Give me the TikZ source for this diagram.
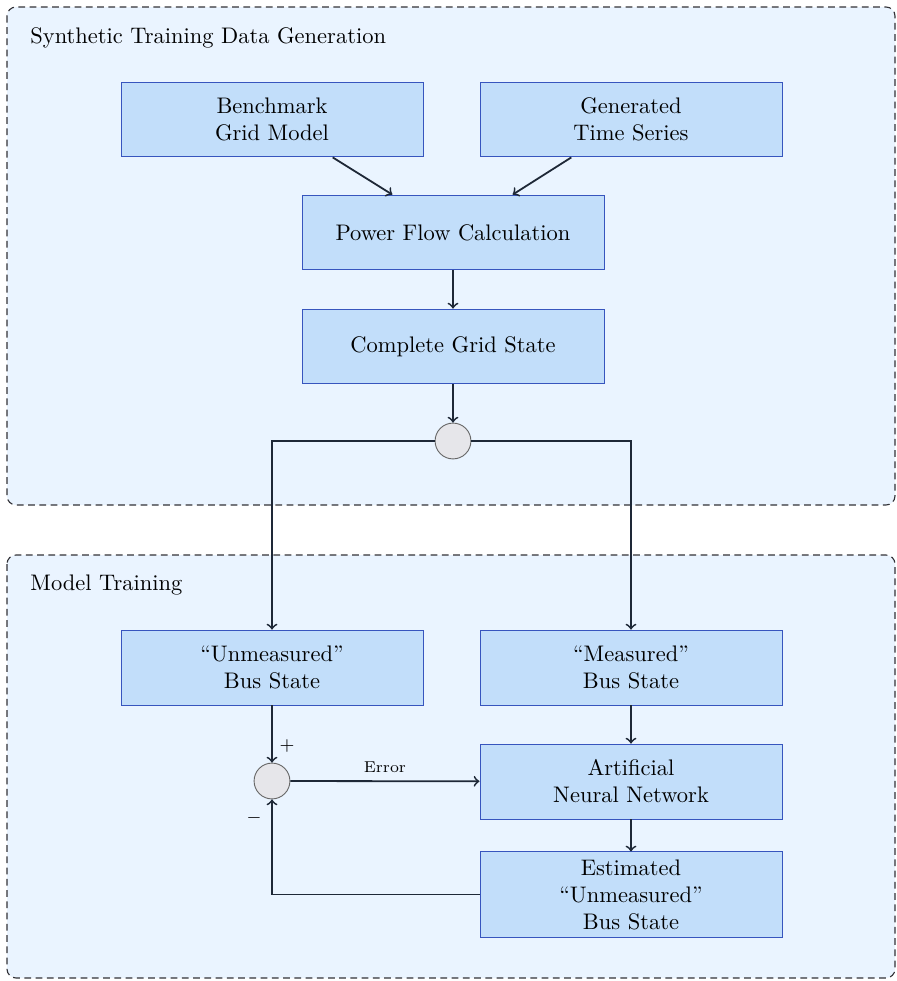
\documentclass[tikz,border=0pt]{standalone}
\usepackage{tikz}
\usetikzlibrary{arrows,positioning}

\definecolor{boxfill}{RGB}{194,222,250}
\definecolor{boxline}{RGB}{55,85,190}
\definecolor{groupfill}{RGB}{234,244,255}
\definecolor{groupline}{RGB}{50,50,55}
\definecolor{wire}{RGB}{30,40,55}
\definecolor{sumfill}{RGB}{230,230,234}

\tikzset{
  block/.style={rectangle,draw=boxline,fill=boxfill,minimum width=4.72cm,minimum height=1.17cm,align=center,inner sep=2pt},
  sumnode/.style={circle,draw=black!60,fill=sumfill,minimum size=0.56cm,inner sep=0pt},
  flow/.style={->,thick,draw=wire},
  group/.style={draw=groupline,line width=0.5pt,dash pattern=on 3pt off 2pt,rounded corners=4pt,fill=groupfill},
  grouptitle/.style={anchor=west,inner sep=0pt}
}

\begin{document}
\begin{tikzpicture}[x=0.01563cm,y=-0.01563cm]
  \useasboundingbox (0,0) rectangle (897,981);
  % groups
  \draw[group] (7,7) rectangle (895,505);
  \draw[group] (7,555) rectangle (895,978);
  \node[grouptitle] (gentitle) at (30,38) {Synthetic Training Data Generation};
  \node[grouptitle] (traintitle) at (30,585) {Model Training};

  % data generation
  \node[block] (bench) at (272,119.5) {Benchmark\\Grid Model};
  \node[block] (gen) at (631,119.5) {Generated\\Time Series};
  \node[block] (pf) at (453,232.5) {Power Flow Calculation};
  \node[block] (cgs) at (453,346.5) {Complete Grid State};
  \node[sumnode] (split) at (453,441) {};

  % training
  \node[block] (unm) at (272,667.5) {``Unmeasured''\\Bus State};
  \node[block] (meas) at (631,667.5) {``Measured''\\Bus State};
  \node[block] (ann) at (631,781.5) {Artificial\\Neural Network};
  \node[block,minimum height=1.33cm] (est) at (631,894.5) {Estimated\\``Unmeasured''\\Bus State};
  \node[sumnode] (diff) at (272,781) {};
  \node (plus) at (287,746) {\footnotesize$+$};
  \node (minus) at (254,818) {\footnotesize$-$};

  \draw[flow] (bench) -- (pf);
  \draw[flow] (gen) -- (pf);
  \draw[flow] (pf) -- (cgs);
  \draw[flow] (cgs) -- (split);
  \draw[flow] (split) -| (unm);
  \draw[flow] (split) -| (meas);
  \draw[flow] (unm) -- (diff);
  \draw[flow] (meas) -- (ann);
  \draw[flow] (ann) -- (est);
  \draw[flow] (diff) -- node[above] {\scriptsize Error} (ann);
  \draw[flow] (est) -| (diff);
\end{tikzpicture}
\end{document}
